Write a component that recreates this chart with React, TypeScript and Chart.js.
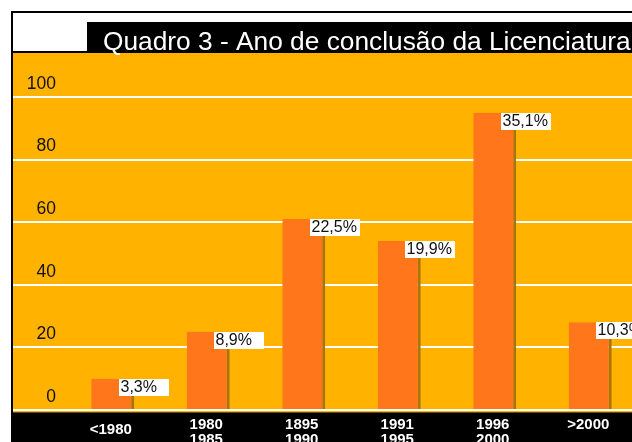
import React, { useEffect, useRef } from "react";
import { Chart, registerables } from "chart.js";

Chart.register(...registerables);

const TITLE = "Quadro 3 - Ano de conclusão da Licenciatura";
const categories: (string | string[])[] = [
  "<1980",
  ["1980", "1985"],
  ["1895", "1990"],
  ["1991", "1995"],
  ["1996", "2000"],
  ">2000",
];
const counts = [10, 25, 61, 54, 95, 28];
const percentLabels = ["3,3%", "8,9%", "22,5%", "19,9%", "35,1%", "10,3%"];
const yMin = 0;
const yMax = 100;
const yStep = 20;

const W = 700;
const H = 470;
const FONT = "'Liberation Sans', Arial, Helvetica, sans-serif";

const bgPlugin = {
  id: "bgFrame",
  beforeDraw(chart: any) {
    const ctx = chart.ctx;
    const w = chart.width;
    const h = chart.height;
    ctx.save();
    ctx.fillStyle = "#ffffff";
    ctx.fillRect(0, 0, w, h);
    ctx.fillStyle = "#000000";
    ctx.fillRect(11, 11, w - 11, h - 11);
    ctx.fillStyle = "#ffffff";
    ctx.fillRect(13, 13, w - 13, 9);
    ctx.fillRect(13, 22, 74, 29);
    ctx.fillStyle = "#FFB200";
    ctx.fillRect(13, 53, w - 13, 412 - 53);
    ctx.fillStyle = "#6e4a00";
    ctx.fillRect(13, 412, w - 13, 1);
    ctx.fillStyle = "#ffffff";
    ctx.font = `26.3px ${FONT}`;
    ctx.textAlign = "left";
    ctx.textBaseline = "alphabetic";
    ctx.fillText(TITLE, 103, 50);
    ctx.restore();
  },
};

const valueLabelPlugin = {
  id: "valueLabels",
  afterDatasetsDraw(chart: any) {
    const meta = chart.getDatasetMeta(0);
    const ctx = chart.ctx;
    ctx.save();
    ctx.font = `16px ${FONT}`;
    ctx.textAlign = "left";
    ctx.textBaseline = "middle";
    meta.data.forEach((bar: any, i: number) => {
      const left = Math.round(bar.x + 6);
      const top = Math.round(bar.y);
      ctx.fillStyle = "#ffffff";
      ctx.fillRect(left, top, 50, 17);
      ctx.fillStyle = "#111111";
      ctx.fillText(percentLabels[i], left + 1.5, top + 9);
    });
    ctx.restore();
  },
};

export default function App() {
  const canvasRef = useRef<HTMLCanvasElement | null>(null);

  useEffect(() => {
    const canvas = canvasRef.current;
    if (!canvas) return;
    const chart = new Chart(canvas, {
      type: "bar",
      data: {
        labels: categories as any,
        datasets: [
          {
            data: counts,
            backgroundColor: "#FF761B",
            borderColor: "#A8740E",
            borderWidth: { top: 0, right: 3, bottom: 0, left: 0 } as any,
            barPercentage: 0.45,
            categoryPercentage: 1,
          },
        ],
      },
      options: {
        responsive: false,
        animation: false,
        devicePixelRatio: 1,
        layout: { padding: { left: 13, right: 62, top: 97, bottom: 0 } },
        plugins: {
          legend: { display: false },
          title: { display: false },
          tooltip: { enabled: false },
        },
        scales: {
          x: {
            type: "category",
            offset: true,
            grid: { display: false, drawTicks: false },
            border: { display: true, color: "#ffffff", width: 2, z: 1 },
            ticks: {
              color: "#ffffff",
              autoSkip: false,
              maxRotation: 0,
              minRotation: 0,
              padding: 7,
              labelOffset: -2,
              font: (c: any) => ({
                family: FONT,
                size: 15,
                weight: "bold",
                lineHeight: c.index === 0 ? "26px" : "15.5px",
              }),
            },
            afterFit: (s: any) => {
              s.height = 60;
            },
          },
          y: {
            min: yMin,
            max: yMax,
            grid: {
              color: "#ffffff",
              lineWidth: 2,
              drawTicks: true,
              tickLength: 52,
              tickColor: "#ffffff",
              tickWidth: 2,
            },
            border: { display: false },
            ticks: {
              stepSize: yStep,
              color: "#111111",
              padding: -43,
              labelOffset: -13,
              font: { family: FONT, size: 17.5 },
            },
            afterFit: (s: any) => {
              s.width = 52;
            },
          },
        },
      } as any,
      plugins: [bgPlugin, valueLabelPlugin],
    });
    return () => chart.destroy();
  }, []);

  return (
    <div
      style={{
        position: "absolute",
        left: 0,
        top: 0,
        width: 632,
        height: 442,
        overflow: "hidden",
        background: "#ffffff",
      }}
    >
      <canvas
        ref={canvasRef}
        width={W}
        height={H}
        style={{ width: W, height: H, display: "block" }}
      />
    </div>
  );
}
